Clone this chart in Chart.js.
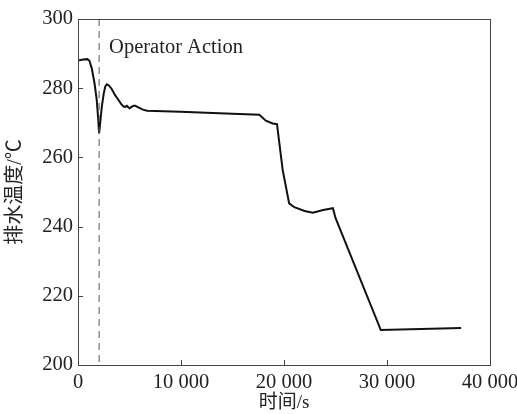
<!DOCTYPE html>
<html>
<head>
<meta charset="utf-8">
<script src="https://cdn.jsdelivr.net/npm/chart.js@4/dist/chart.umd.min.js"></script>
<style>
  html, body { margin: 0; padding: 0; background: #fff; }
  #wrap { width: 517px; height: 414px; position: relative; }
</style>
</head>
<body>
<div id="wrap"><canvas id="myChart"></canvas></div>
<script>
'use strict';

// 时间 (s) and 排水温度 (°C)
var times = [0, 500, 900, 1100, 1340, 1600, 1820, 1950, 2050, 2150, 2310, 2500, 2650, 2800, 3000,
             3290, 3600, 3930, 4200, 4420, 4600, 4750, 4880, 5010, 5200, 5400, 5560, 5900, 6300, 6700,
             9950, 15000, 17600, 18240, 18900, 19320, 19870, 20500, 21000, 22000, 22800, 23800,
             24750, 25000, 29400, 37200];
var temps = [288.0, 288.3, 288.4, 288.0, 285.7, 281.5, 276.6, 271.5, 267.0, 269.8, 274.6, 278.5, 280.5, 281.1, 280.8,
             279.7, 278.0, 276.6, 275.4, 274.7, 274.6, 274.9, 274.5, 274.2, 274.6, 274.9, 274.9, 274.4, 273.8, 273.5,
             273.2, 272.6, 272.3, 270.6, 269.8, 269.6, 256.4, 246.7, 245.6, 244.5, 244.0, 244.8,
             245.3, 242.5, 210.1, 210.7];
var xTicks = [0, 10000, 20000, 30000, 40000];
var yTicks = [200, 220, 240, 260, 280, 300];
var actionTime = 2050;
var actionLabel = 'Operator Action';

var FONT = '"Liberation Serif", "Times New Roman", serif';
var CJK = '"Liberation Serif", "Noto Sans CJK SC", serif';

var points = times.map(function (t, i) { return { x: t, y: temps[i] }; });

function fmt(v) {
    return String(v).replace(/\B(?=(\d{3})+(?!\d))/g, ' ');
}

var frame = {
    id: 'frame',
    afterDraw: function (chart) {
        var c = chart.ctx, a = chart.chartArea;
        var xs = chart.scales.x, ys = chart.scales.y;
        c.save();
        // operator action marker
        var px = xs.getPixelForValue(actionTime);
        c.strokeStyle = '#555';
        c.lineWidth = 1;
        c.setLineDash([7, 5]);
        c.beginPath();
        c.moveTo(px, a.top);
        c.lineTo(px, a.bottom);
        c.stroke();
        c.setLineDash([]);
        c.fillStyle = '#222';
        c.font = '20.5px ' + FONT;
        c.textBaseline = 'alphabetic';
        c.fillText(actionLabel, px + 10, a.top + 34);
        // box
        c.strokeStyle = '#444';
        c.lineWidth = 1;
        c.strokeRect(a.left + 0.5, a.top + 0.5, a.right - a.left, a.bottom - a.top);
        // inward ticks
        xTicks.forEach(function (v) {
            var p = Math.round(xs.getPixelForValue(v)) + 0.5;
            c.beginPath(); c.moveTo(p, a.bottom); c.lineTo(p, a.bottom - 5); c.stroke();
        });
        yTicks.forEach(function (v) {
            var p = Math.round(ys.getPixelForValue(v)) + 0.5;
            c.beginPath(); c.moveTo(a.left, p); c.lineTo(a.left + 5, p); c.stroke();
        });
        c.restore();
    }
};

var ctx = document.getElementById('myChart').getContext('2d');
var chart = new Chart(ctx, {
    type: 'line',
    data: {
        datasets: [{
            data: points,
            borderColor: '#111',
            borderWidth: 2,
            pointRadius: 0,
            fill: false,
            tension: 0
        }]
    },
    options: {
        responsive: true,
        maintainAspectRatio: false,
        animation: false,
        layout: { padding: { top: 19, right: 27, left: 0, bottom: 0 } },
        plugins: { legend: { display: false }, tooltip: { enabled: false } },
        scales: {
            x: {
                type: 'linear',
                min: 0,
                max: 40000,
                afterBuildTicks: function (s) { s.ticks = xTicks.map(function (v) { return { value: v }; }); },
                afterFit: function (s) { s.height = 49; s.paddingLeft = 0; s.paddingRight = 0; },
                grid: { display: false, drawTicks: false },
                border: { display: false },
                ticks: {
                    padding: 5,
                    color: '#222',
                    font: { family: FONT, size: 20.5 },
                    maxRotation: 0,
                    callback: function (v) { return fmt(v); }
                },
                title: {
                    display: true,
                    text: '时间/s',
                    color: '#222',
                    font: { family: CJK, size: 19 },
                    padding: { top: 0, bottom: 0 }
                }
            },
            y: {
                min: 200,
                max: 300,
                afterBuildTicks: function (s) { s.ticks = yTicks.map(function (v) { return { value: v }; }); },
                afterFit: function (s) { s.width = 78; s.paddingTop = 0; s.paddingBottom = 0; },
                grid: { display: false, drawTicks: false },
                border: { display: false },
                ticks: {
                    padding: 5,
                    color: '#222',
                    font: { family: FONT, size: 20.5 }
                },
                title: {
                    display: true,
                    text: '排水温度/℃',
                    color: '#222',
                    font: { family: CJK, size: 20 },
                    padding: { top: 4, bottom: 0 }
                }
            }
        }
    },
    plugins: [frame]
});
</script>
</body>
</html>
